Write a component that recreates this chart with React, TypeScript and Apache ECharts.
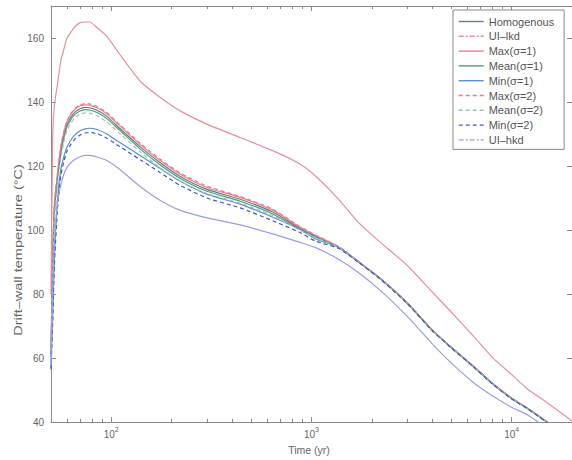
import React, { useEffect, useRef } from 'react';
import * as echarts from 'echarts';

const times = [50, 51, 52, 54, 56, 58, 60, 63, 66, 70, 74, 78, 85, 95, 110, 140, 175, 220, 300, 440, 640, 870, 1050, 1370, 1700, 2200, 3000, 4000, 5000, 6500, 8000, 10000, 12000, 14500, 17000, 20000];

const homogenous = [61, 90, 106.5, 117.5, 124.8, 129.5, 132.8, 135.3, 136.9, 137.9, 138.3, 138.2, 137.4, 135.5, 131.8, 125.9, 121.1, 116.8, 112.7, 109.6, 105.6, 100.6, 98, 94.6, 90.3, 84.9, 77.3, 68.8, 63.3, 57.2, 52.1, 47.4, 44.3, 40.7, 37.6, 34.5];
const uiLkd = [80, 130, 139, 146, 153, 156.5, 159.9, 161.9, 163.6, 164.8, 165, 165, 163.2, 160.5, 155, 146.4, 141.5, 137.3, 133.1, 128.9, 124.8, 120.7, 116.8, 109.5, 102.6, 96.2, 89, 80.7, 74.3, 66.5, 60.2, 54.8, 50.3, 46.7, 43.6, 40.3];
const maxS1 = [62, 92, 108, 118, 126, 130.5, 133.8, 136.2, 137.8, 138.8, 139.1, 139, 138.2, 136.3, 132.6, 126.6, 121.8, 117.5, 113.3, 110.2, 106.2, 101, 98.3, 94.7, 90.3, 84.9, 77.3, 68.8, 63.3, 57.2, 52.1, 47.4, 44.3, 40.7, 37.6, 34.5];
const meanS1 = [60.5, 89, 105.5, 116.5, 124, 128.8, 132.2, 134.6, 136.2, 137.2, 137.6, 137.5, 136.7, 134.8, 131.2, 125.2, 120.4, 116.2, 112.1, 109, 105, 100.3, 97.8, 94.5, 90.2, 84.8, 77.2, 68.7, 63.2, 57.1, 52, 47.3, 44.2, 40.6, 37.5, 34.4];
const minS1 = [57, 74, 92, 110, 119, 123, 125.8, 128.2, 129.8, 131, 131.6, 131.8, 131.4, 130, 127.4, 123.2, 119.3, 115.3, 111.2, 108.1, 104, 100.3, 97.2, 94.5, 90.2, 84.8, 77.2, 68.7, 63.2, 57.1, 52, 47.3, 44.2, 40.6, 37.5, 34.4];
const maxS2 = [62.5, 92, 108.5, 118.5, 126.3, 130.8, 134, 136.5, 138.1, 139.1, 139.5, 139.4, 138.6, 136.7, 133, 127, 122.2, 117.9, 113.7, 110.5, 106.5, 101.2, 98.4, 94.8, 90.4, 85, 77.4, 68.9, 63.4, 57.3, 52.2, 47.5, 44.4, 40.8, 37.7, 34.6];
const meanS2 = [60, 87, 103, 114.5, 122.5, 127.5, 131, 133.5, 135.2, 136.2, 136.6, 136.5, 135.7, 133.8, 130.2, 124.3, 119.5, 115.4, 111.4, 108.4, 104.5, 100, 97.6, 94.5, 90.2, 84.8, 77.2, 68.7, 63.2, 57.1, 52, 47.3, 44.2, 40.6, 37.5, 34.4];
const minS2 = [56.5, 71, 89, 107.5, 117, 121.5, 124.5, 126.9, 128.5, 129.7, 130.3, 130.5, 130.1, 128.7, 126.1, 121.9, 118, 114, 110, 106.9, 102.9, 99.3, 96.5, 94.2, 90.1, 84.7, 77.1, 68.6, 63.1, 57, 51.9, 47.2, 44.1, 40.5, 37.4, 34.3];
const uiHkd = [58, 80, 96, 109, 114, 117.5, 119.5, 121.1, 122.1, 122.9, 123.3, 123.3, 122.8, 121.7, 119, 113.5, 109.3, 106.2, 103.8, 101.6, 98.8, 96.2, 94.5, 90.8, 86.9, 81.2, 73.1, 64.5, 58.4, 52.1, 48.2, 44.6, 42.2, 38.7, 35.7, 32.2];

const seriesNames = ['Homogenous', 'UI–lkd', 'Max(σ=1)', 'Mean(σ=1)', 'Min(σ=1)', 'Max(σ=2)', 'Mean(σ=2)', 'Min(σ=2)', 'UI–hkd'];
const seriesValues = [homogenous, uiLkd, maxS1, meanS1, minS1, maxS2, meanS2, minS2, uiHkd];

const yTicks = [40, 60, 80, 100, 120, 140, 160];
const xMajorTicks = [100, 1000, 10000];
const xMinorTicks = [60, 70, 80, 90, 200, 300, 400, 500, 600, 700, 800, 900, 2000, 3000, 4000, 5000, 6000, 7000, 8000, 9000];

const FONT = '"Liberation Sans", Arial, sans-serif';
const AXIS = '#8a8a8a';
const TEXT = '#666';

// plot line style / legend icon line style
const styles = [
  { color: '#6e7a7e', type: 'solid', legendType: 'solid' },
  { color: '#e8909c', type: 'solid', legendType: [5, 2, 2, 2] },
  { color: '#e8808e', type: 'solid', legendType: 'solid' },
  { color: '#4f9a76', type: 'solid', legendType: 'solid' },
  { color: '#5a8fd6', type: 'solid', legendType: 'solid' },
  { color: '#e77b89', type: [4, 3], legendType: [4, 3] },
  { color: '#9fc4b0', type: [4, 3], legendType: [4, 3] },
  { color: '#3d5db0', type: [4, 3], legendType: [4, 3] },
  { color: '#9b9ee0', type: 'solid', legendType: [5, 2, 2, 2] },
];

export default function App() {
  const ref = useRef<HTMLDivElement>(null);
  useEffect(() => {
    const chart = echarts.init(ref.current!, null, { renderer: 'svg' });
    const baseX = {
      type: 'log',
      logBase: 10,
      min: 50,
      max: 20000,
      gridIndex: 0,
      splitLine: { show: false },
      minorTick: { show: false },
    };
    const option: any = {
      animation: false,
      backgroundColor: '#fff',
      textStyle: { fontFamily: FONT },
      grid: { left: 51, top: 6, width: 522, height: 416, containLabel: false },
      legend: {
        orient: 'vertical',
        left: 453,
        top: 10,
        padding: [6, 10, 4, 5],
        itemWidth: 25,
        itemHeight: 10,
        itemGap: 3.8,
        backgroundColor: '#fff',
        borderColor: '#888',
        borderWidth: 1,
        borderRadius: 0,
        itemStyle: { opacity: 0 },
        data: seriesNames.map((name, i) => ({
          name,
          itemStyle: { opacity: 0 },
          lineStyle: { color: styles[i].color, type: styles[i].legendType, width: 1.4 },
        })),
        textStyle: { fontSize: 11, color: '#555', fontFamily: FONT },
      },
      xAxis: [
        {
          ...baseX,
          position: 'bottom',
          axisLine: { show: true, lineStyle: { color: AXIS, width: 1 } },
          axisTick: { show: true, inside: true, length: 5, customValues: xMajorTicks, lineStyle: { color: AXIS } },
          axisLabel: {
            show: true,
            customValues: xMajorTicks,
            margin: 4,
            formatter: (v: number) => `{b|10}{s|${Math.round(Math.log10(v))}}`,
            rich: {
              b: { fontSize: 10, color: TEXT, fontFamily: FONT, verticalAlign: 'bottom', lineHeight: 13 },
              s: { fontSize: 7, color: TEXT, fontFamily: FONT, verticalAlign: 'top', lineHeight: 13 },
            },
          },
        },
        {
          ...baseX,
          position: 'bottom',
          axisLine: { show: false },
          axisTick: { show: true, inside: true, length: 3, customValues: xMinorTicks, lineStyle: { color: AXIS } },
          axisLabel: { show: false },
        },
        {
          ...baseX,
          position: 'top',
          axisLine: { show: true, lineStyle: { color: AXIS, width: 1 } },
          axisTick: { show: true, inside: true, length: 5, customValues: xMajorTicks, lineStyle: { color: AXIS } },
          axisLabel: { show: false },
        },
        {
          ...baseX,
          position: 'top',
          axisLine: { show: false },
          axisTick: { show: true, inside: true, length: 3, customValues: xMinorTicks, lineStyle: { color: AXIS } },
          axisLabel: { show: false },
        },
      ],
      yAxis: [
        {
          type: 'value',
          min: 40,
          max: 170,
          position: 'left',
          splitLine: { show: false },
          axisLine: { show: true, lineStyle: { color: AXIS, width: 1 } },
          axisTick: { show: true, inside: true, length: 5, customValues: yTicks, lineStyle: { color: AXIS } },
          axisLabel: { show: true, customValues: yTicks, margin: 7, fontSize: 10, color: TEXT, fontFamily: FONT },
        },
        {
          type: 'value',
          min: 40,
          max: 170,
          position: 'right',
          splitLine: { show: false },
          axisLine: { show: true, lineStyle: { color: AXIS, width: 1 } },
          axisTick: { show: true, inside: true, length: 5, customValues: yTicks, lineStyle: { color: AXIS } },
          axisLabel: { show: false },
        },
      ],
      graphic: [
        {
          type: 'text',
          x: 19,
          y: 250,
          rotation: Math.PI / 2,
          scaleX: 1.45,
          style: {
            text: 'Drift–wall temperature (°C)',
            fontSize: 10,
            fontFamily: FONT,
            fill: TEXT,
            textAlign: 'center',
            textVerticalAlign: 'middle',
          },
        },
        {
          type: 'text',
          x: 309,
          y: 450,
          style: {
            text: 'Time (yr)',
            fontSize: 10.5,
            fontFamily: FONT,
            fill: TEXT,
            textAlign: 'center',
            textVerticalAlign: 'middle',
          },
        },
      ],
      series: seriesNames.map((name, i) => ({
        name,
        type: 'line',
        xAxisIndex: 0,
        yAxisIndex: 0,
        symbol: 'none',
        smooth: 0.2,
        clip: true,
        lineStyle: { color: styles[i].color, width: 1.2, type: styles[i].type },
        itemStyle: { color: styles[i].color },
        data: times.map((t, j) => [t, seriesValues[i][j]]),
      })),
    };
    chart.setOption(option);
    return () => chart.dispose();
  }, []);
  return (
    <div
      ref={ref}
      style={{ position: 'fixed', left: 0, top: 0, width: 572, height: 460, background: '#fff' }}
    />
  );
}
